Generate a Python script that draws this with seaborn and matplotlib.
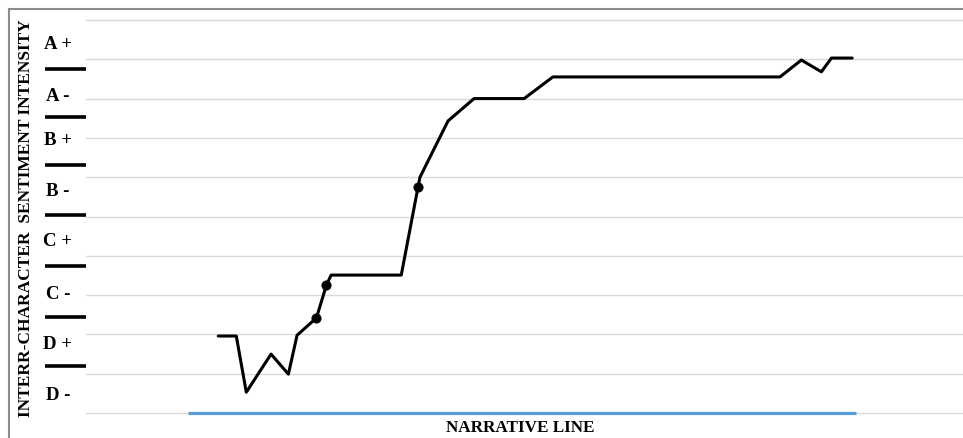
import matplotlib
matplotlib.use("Agg")
import matplotlib.pyplot as plt
import matplotlib.transforms as mtransforms
from matplotlib.patches import Rectangle
import pandas as pd
import seaborn as sns

# narrative position (0-100) vs sentiment intensity (grid units)
narrative_pos = [4.5, 7.2, 8.7, 12.4, 15.0, 16.3, 19.2, 20.7, 21.4, 31.9, 34.4,
                 34.7, 38.9, 42.8, 50.3, 54.6, 88.6, 91.8, 94.8, 96.3, 99.4]
intensity = [1.96, 1.96, 0.53, 1.5, 0.99, 1.98, 2.42, 3.26, 3.51, 3.51, 5.74,
             6.0, 7.43, 8.0, 8.0, 8.55, 8.55, 8.98, 8.68, 9.03, 9.03]
key_idx = [6, 7, 10]  # points marked with dots

grade_labels = ["A +", "A -", "B +", "B -", "C +", "C -", "D +", "D -"]
grade_label_y = [9.41, 8.07, 6.97, 5.65, 4.38, 3.03, 1.78, 0.48]
grade_bar_y = [8.75, 7.53, 6.31, 5.04, 3.74, 2.44, 1.20]
narrative_span = [0, 100]

sns.set_style("white")
plt.rcParams["font.family"] = ["Liberation Serif", "DejaVu Serif"]
plt.rcParams["text.color"] = "black"

df = pd.DataFrame({"pos": narrative_pos, "val": intensity})

fig = plt.figure(figsize=(9.63, 4.39), dpi=100)
ax = fig.add_axes([86 / 963, (439 - 418) / 439, 877 / 963, (418 - 17) / 439])

ax.set_yticks(range(11))
ax.yaxis.grid(True, color="#d9d9d9", lw=1)
ax.set_axisbelow(True)

ax.plot(narrative_span, [0, 0], color="#5b9bd5", lw=2.3, zorder=3,
        solid_capstyle="butt")
sns.lineplot(data=df, x="pos", y="val", sort=False, color="black", lw=2.2,
             ax=ax, zorder=4)
sns.scatterplot(data=df.iloc[key_idx], x="pos", y="val", color="black", s=45,
                edgecolor="black", ax=ax, zorder=5)

ax.set_xlim(-15.3, 116.0)
ax.set_ylim(-0.1, 10.1)
ax.set_xticks([])
ax.set_yticklabels([])
ax.tick_params(length=0)
ax.set_xlabel("")
ax.set_ylabel("")
for s in ax.spines.values():
    s.set_visible(False)

trans = mtransforms.blended_transform_factory(ax.transAxes, ax.transData)
for lab, y in zip(grade_labels, grade_label_y):
    ax.text(-0.032, y, lab, transform=trans, ha="center", va="center",
            fontsize=13.5, fontweight="bold", color="black")
for y in grade_bar_y:
    ax.plot([-0.0467, 0], [y, y], transform=trans, color="black", lw=2.6,
            clip_on=False, solid_capstyle="butt")

fig.text(26 / 963, (439 - 218) / 439, "INTERR-CHARACTER  SENTIMENT INTENSITY",
         rotation=90, ha="center", va="center", fontsize=12.5,
         fontweight="bold", color="black")
fig.text(520 / 963, (439 - 428) / 439, "NARRATIVE LINE", ha="center",
         va="center", fontsize=12.3, fontweight="bold", color="black")

fig.add_artist(Rectangle((9 / 963, -0.1), 1.2, (439 - 10) / 439 + 0.1,
                         transform=fig.transFigure, fill=False,
                         edgecolor="#8c8c8c", lw=1.5))

fig.savefig("out.png", dpi=100)
plt.close(fig)
